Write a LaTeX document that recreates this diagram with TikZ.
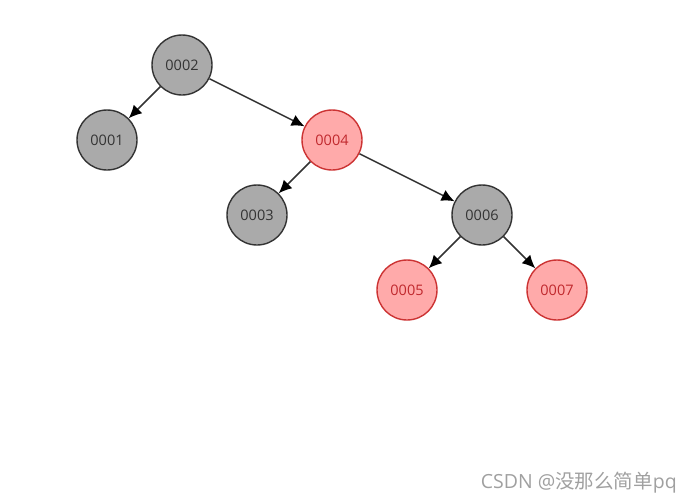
\documentclass[tikz,border=0pt]{standalone}
\usepackage{fontspec}
\setmainfont{Open Sans}
\newfontfamily\cjkfont{Noto Sans CJK SC}
\usetikzlibrary{arrows.meta}
\definecolor{blkfill}{HTML}{AAAAAA}
\definecolor{blkline}{HTML}{333333}
\definecolor{redfill}{HTML}{FFAAAA}
\definecolor{redline}{HTML}{CC3333}
\definecolor{redtext}{HTML}{C0282D}
\definecolor{wmark}{HTML}{A0A0A0}
\tikzset{
  blk/.style={circle,draw=blkline,fill=blkfill,line width=1.4pt,minimum size=60pt,inner sep=0pt,text=black!80,font=\fontsize{14.5}{14.5}\selectfont},
  rdn/.style={circle,draw=redline,fill=redfill,line width=1.4pt,minimum size=60pt,inner sep=0pt,text=redtext,font=\fontsize{14.5}{14.5}\selectfont},
  edge/.style={draw=blkline,line width=1.5pt,-{Latex[length=13pt,width=12pt,color=black]}}
}
\begin{document}
\begin{tikzpicture}[x=1pt,y=-1pt]
\useasboundingbox (0,0) rectangle (691,501);
\node[blk] (n2) at (182,65) {0002};
\node[blk] (n1) at (107,140) {0001};
\node[rdn] (n4) at (332,140) {0004};
\node[blk] (n3) at (257,215) {0003};
\node[blk] (n6) at (482,215) {0006};
\node[rdn] (n5) at (407,290) {0005};
\node[rdn] (n7) at (557,290) {0007};
\draw[edge] (n2) -- (n1);
\draw[edge] (n2) -- (n4);
\draw[edge] (n4) -- (n3);
\draw[edge] (n4) -- (n6);
\draw[edge] (n6) -- (n5);
\draw[edge] (n6) -- (n7);
\node[anchor=base east,text=wmark,font=\fontsize{19.5}{19.5}\selectfont,inner sep=0pt] (wm) at (677,488) {CSDN @{\cjkfont 没那么简单}pq};
\end{tikzpicture}
\end{document}
